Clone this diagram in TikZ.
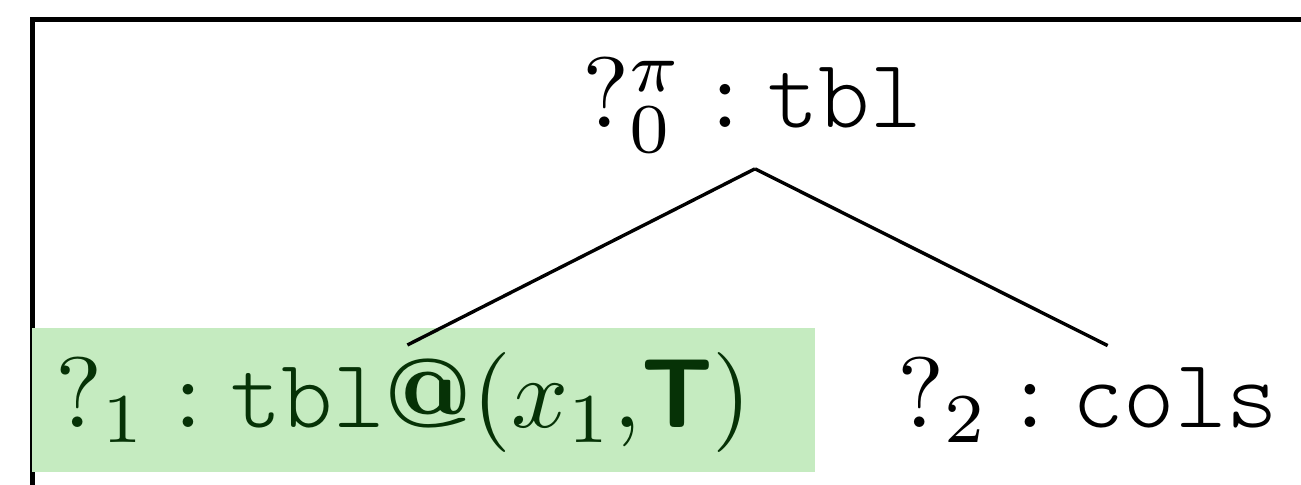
\documentclass[tikz,border=0pt]{standalone}
\usepackage{fontspec}
\setmonofont{Latin Modern Mono Light}
\definecolor{hlgreen}{RGB}{197,235,192}
\definecolor{txtgreen}{RGB}{6,50,6}
\begin{document}
\begin{tikzpicture}[x=0.1pt,y=-0.1pt,
  lbl/.style={inner sep=0pt, font=\fontsize{9.8}{12}\selectfont},
  edge/.style={line width=0.34pt, line join=miter}]
\path[use as bounding box] (0,0) rectangle (1301,485);
\clip (0,0) rectangle (1301,485);
\node[draw, line width=0.55pt, inner sep=0pt, minimum width=150pt, minimum height=60pt, anchor=north west] (frame) at (29.5,17) {};
\node[fill=hlgreen, inner sep=0pt, minimum width=78.3pt, minimum height=14.4pt] (hl) at (423.5,400) {};
\node[lbl, anchor=base] (root) at (752,128) {$?^{\pi}_{0} : \texttt{tbl}$};
\node[lbl, anchor=base west, text=txtgreen] (left) at (53,428) {$?_1 : \texttt{tbl}\mbox{\bfseries @}(x_1{,}\mbox{\sffamily\bfseries T})$};
\node[lbl, anchor=base west] (right) at (895,428) {$?_2 : \texttt{cols}$};
\draw[edge] ([xshift=0.3pt,yshift=-1.4pt]root.south) -- ([xshift=0.4pt,yshift=0.6pt]left.north);
\draw[edge] ([xshift=0.3pt,yshift=-1.4pt]root.south) -- ([xshift=2pt,yshift=1.1pt]right.north);
\end{tikzpicture}
\end{document}
